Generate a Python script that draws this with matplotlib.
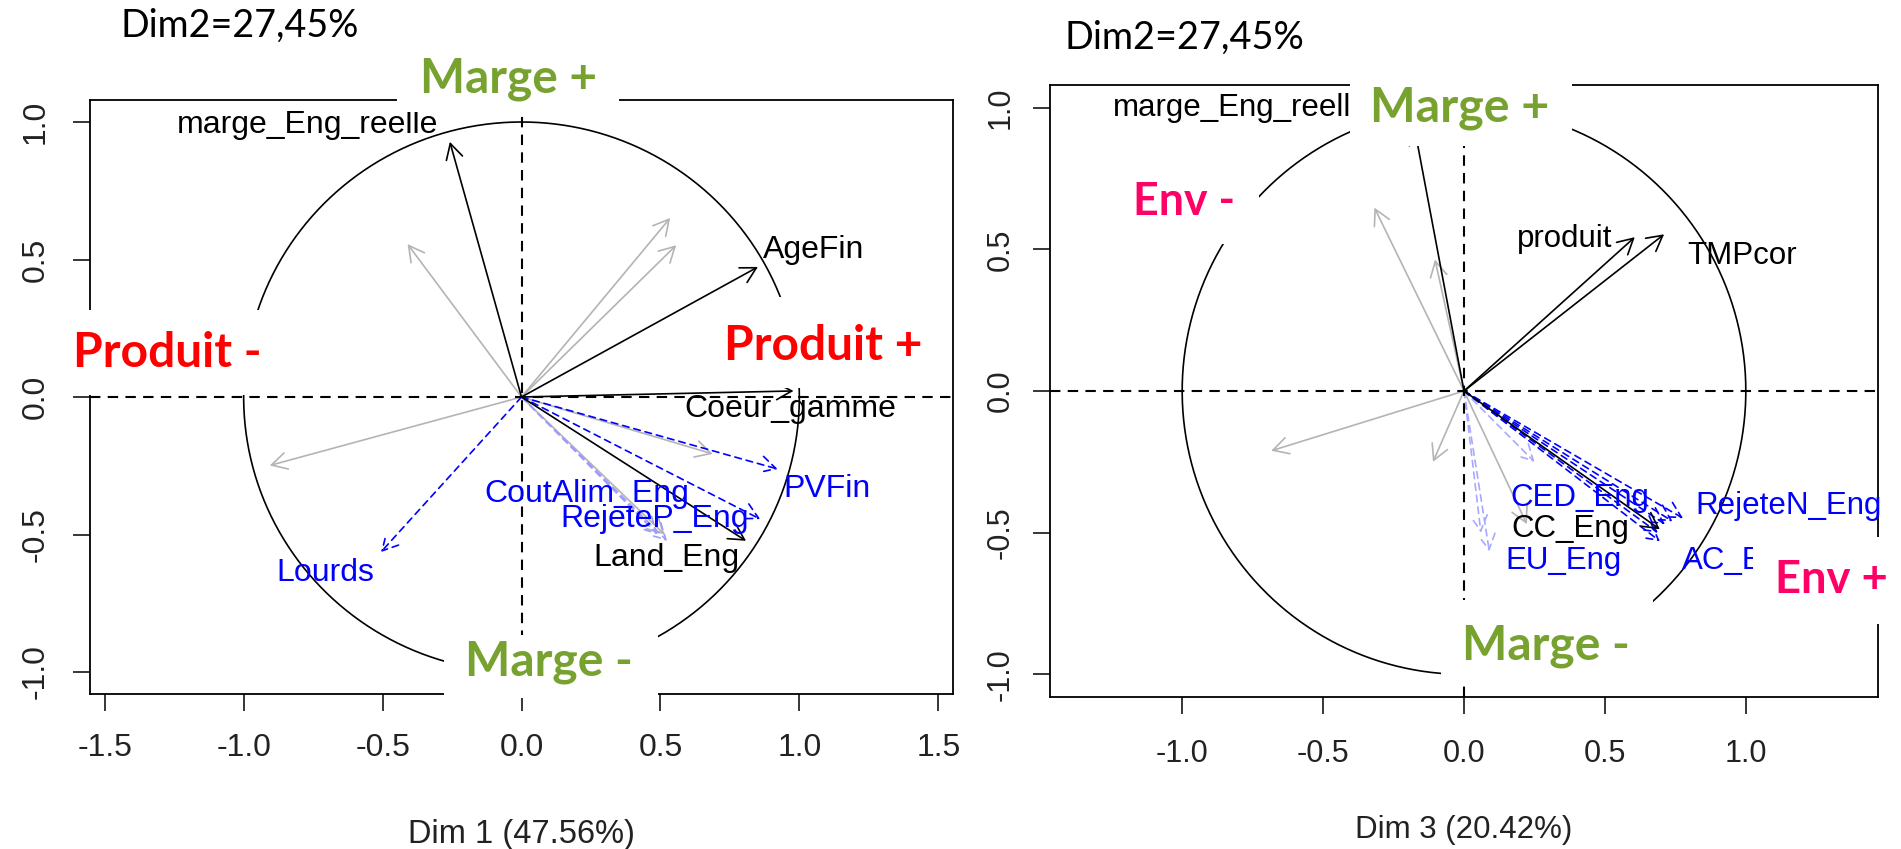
import numpy as np
import matplotlib
matplotlib.use('Agg')
import matplotlib.pyplot as plt
from matplotlib.patches import FancyArrowPatch, Rectangle

plt.rcParams['font.family'] = ['Liberation Sans', 'DejaVu Sans']
plt.rcParams['axes.unicode_minus'] = False

# ---- panneau gauche : Dim 1 (x) / Dim 2 (y)
g_noir_nom = ['marge_Eng_reelle', 'AgeFin', 'Coeur_gamme', 'Land_Eng']
g_noir_x = [-0.258, 0.851, 0.979, 0.808]
g_noir_y = [0.928, 0.473, 0.022, -0.523]
g_noir_lab_x = [-0.77, 1.05, 0.968, 0.52]
g_noir_lab_y = [0.99, 0.533, -0.043, -0.584]

g_gris_x = [-0.41, 0.535, 0.557, -0.906, 0.688, 0.515]
g_gris_y = [0.556, 0.651, 0.552, -0.249, -0.207, -0.50]

g_bleu_x = [-0.506, 0.922, 0.859]
g_bleu_y = [-0.564, -0.262, -0.444]
g_clair_x = [0.524, 0.49]
g_clair_y = [-0.523, -0.50]

g_bleu_nom = ['Lourds', 'PVFin', 'RejeteP_Eng', 'CoutAlim_Eng']
g_bleu_lab_x = [-0.707, 1.098, 0.48, 0.236]
g_bleu_lab_y = [-0.64, -0.335, -0.444, -0.353]

# ---- panneau droit : Dim 3 (x) / Dim 2 (y)
d_noir_nom = ['marge_Eng_reelle', 'produit', 'TMPcor', 'CC_Eng']
d_noir_x = [-0.176, 0.606, 0.710, 0.695]
d_noir_y = [0.93, 0.543, 0.553, -0.488]
d_noir_lab_x = [-0.79, 0.359, 0.985, 0.379]
d_noir_lab_y = [0.998, 0.537, 0.476, -0.488]

d_gris_x = [-0.318, -0.103, -0.684, -0.11, 0.223]
d_gris_y = [0.647, 0.464, -0.211, -0.25, -0.47]

d_bleu_x = [0.777, 0.74, 0.713, 0.695, 0.688]
d_bleu_y = [-0.449, -0.46, -0.47, -0.53, -0.50]
d_clair_x = [0.09, 0.06, 0.25]
d_clair_y = [-0.566, -0.50, -0.25]

d_bleu_nom = ['RejeteN_Eng', 'AC_Eng', 'CED_Eng', 'EU_Eng']
d_bleu_lab_x = [1.152, 0.979, 0.411, 0.352]
d_bleu_lab_y = [-0.406, -0.60, -0.378, -0.60]

g_xticks = [-1.5, -1.0, -0.5, 0.0, 0.5, 1.0, 1.5]
d_xticks = [-1.0, -0.5, 0.0, 0.5, 1.0]
yticks = [-1.0, -0.5, 0.0, 0.5, 1.0]

W, H = 1901, 849
fig = plt.figure(figsize=(W / 100, H / 100), dpi=100)
fig.patch.set_facecolor('white')


def fleche(ax, x, y, col, ls='-', lw=1.2):
    ax.add_patch(FancyArrowPatch((0, 0), (x, y),
                                 arrowstyle='->,head_length=0.55,head_width=0.3',
                                 mutation_scale=20, color=col, lw=lw,
                                 linestyle=ls, shrinkA=0, shrinkB=0))


def panneau(rect, xlim, xticks, fs_tick, fs_lab, xpad, ypad, xlabel, ylab_y):
    ax = fig.add_axes(rect)
    ax.set_xlim(*xlim)
    ax.set_ylim(-1.08, 1.08)
    ax.set_xticks(xticks)
    ax.set_yticks(yticks)
    ax.set_xticklabels(['%.1f' % v for v in xticks])
    ax.set_yticklabels(['%.1f' % v for v in yticks], rotation=90, va='center')
    ax.tick_params(axis='x', length=12, width=1.1, labelsize=fs_tick, pad=xpad, labelcolor='#222222')
    ax.tick_params(axis='y', length=12, width=1.1, labelsize=fs_tick, pad=ypad, labelcolor='#222222')
    for s in ax.spines.values():
        s.set_linewidth(1.3)
    t = np.linspace(0, 2 * np.pi, 400)
    ax.plot(np.cos(t), np.sin(t), color='k', lw=1.2)
    ax.axhline(0, color='k', lw=1.5, ls=(0, (5, 3.5)))
    ax.axvline(0, color='k', lw=1.5, ls=(0, (5, 3.5)))
    ax.set_xlabel(xlabel, fontsize=fs_lab, color='#222222')
    ax.xaxis.set_label_coords(0.5, ylab_y)
    ax.xaxis.label.set_va('center')
    return ax


# ---------- gauche
ax1 = panneau([90 / W, (H - 694) / H, 863 / W, 594 / H], (-1.553, 1.553), g_xticks,
              23, 23.5, 16, 16, 'Dim 1 (47.56%)', (694 - 835) / 594)
for x, y in zip(g_gris_x, g_gris_y):
    fleche(ax1, x, y, '#b4b4b4')
for x, y in zip(g_clair_x, g_clair_y):
    fleche(ax1, x, y, '#9a9aff', ls=(0, (4, 3)))
for x, y in zip(g_bleu_x, g_bleu_y):
    fleche(ax1, x, y, '#0000ff', ls=(0, (4, 3)))
for x, y in zip(g_noir_x, g_noir_y):
    fleche(ax1, x, y, 'black')
for n, x, y in zip(g_noir_nom, g_noir_lab_x, g_noir_lab_y):
    ax1.text(x, y, n, ha='center', va='center', fontsize=23, color='black')
for n, x, y in zip(g_bleu_nom, g_bleu_lab_x, g_bleu_lab_y):
    ax1.text(x, y, n, ha='center', va='center', fontsize=23, color='#0000ff')

# ---------- droite
ax2 = panneau([1050 / W, (H - 697) / H, 828 / W, 612 / H], (-1.469, 1.469), d_xticks,
              22, 22.5, 18, 13, 'Dim 3 (20.42%)', (697 - 830) / 612)
for x, y in zip(d_gris_x, d_gris_y):
    fleche(ax2, x, y, '#b4b4b4')
for x, y in zip(d_clair_x, d_clair_y):
    fleche(ax2, x, y, '#a8a8ff', ls=(0, (4, 3)))
for x, y in zip(d_bleu_x, d_bleu_y):
    fleche(ax2, x, y, '#0000ff', ls=(0, (4, 3)))
for x, y in zip(d_noir_x, d_noir_y):
    fleche(ax2, x, y, 'black')
for n, x, y in zip(d_noir_nom, d_noir_lab_x, d_noir_lab_y):
    ax2.text(x, y, n, ha='center', va='center', fontsize=22.5, color='black')
for n, x, y in zip(d_bleu_nom, d_bleu_lab_x, d_bleu_lab_y):
    ax2.text(x, y, n, ha='center', va='center', fontsize=22.5, color='#0000ff')

# ---------- calque des annotations (coordonnees en pixels)
ov = fig.add_axes([0, 0, 1, 1], zorder=10)
ov.set_xlim(0, W)
ov.set_ylim(H, 0)
ov.axis('off')
ov.patch.set_alpha(0)

caches = [(397, 52, 619, 112), (444, 635, 658, 698), (67, 310, 280, 395), (709, 297, 945, 388),
          (1350, 66, 1572, 146), (1126, 179, 1259, 244), (1753, 537, 1901, 624), (1441, 600, 1653, 684)]
for x0, y0, x1, y1 in caches:
    ov.add_patch(Rectangle((x0, y0), x1 - x0, y1 - y0, facecolor='white', edgecolor='none'))

rend = fig.canvas.get_renderer()


def ecrit(x0, x1, yc, s, col, gras=True):
    t = ov.text(x0, yc, s, ha='left', va='center', fontsize=30, color=col,
                family=['Lato', 'DejaVu Sans'], fontweight='bold' if gras else 'normal')
    w = t.get_window_extent(rend).width
    t.set_fontsize(30 * (x1 - x0) / w)


VERT = '#77a230'
ROUGE = '#ff0000'
ROSE = '#ff0066'
ecrit(120, 358, 26, 'Dim2=27,45%', 'black', gras=False)
ecrit(1065, 1305, 38, 'Dim2=27,45%', 'black', gras=False)
ecrit(420, 597, 79, 'Marge +', VERT)
ecrit(465, 633, 662, 'Marge -', VERT)
ecrit(73, 262, 353, 'Produit -', ROUGE)
ecrit(724, 922, 346, 'Produit +', ROUGE)
ecrit(1370, 1549, 108, 'Marge +', VERT)
ecrit(1462, 1630, 646, 'Marge -', VERT)
ecrit(1133, 1235, 202, 'Env -', ROSE)
ecrit(1775, 1888, 580, 'Env +', ROSE)

fig.savefig('out.png', dpi=100, facecolor='white')
